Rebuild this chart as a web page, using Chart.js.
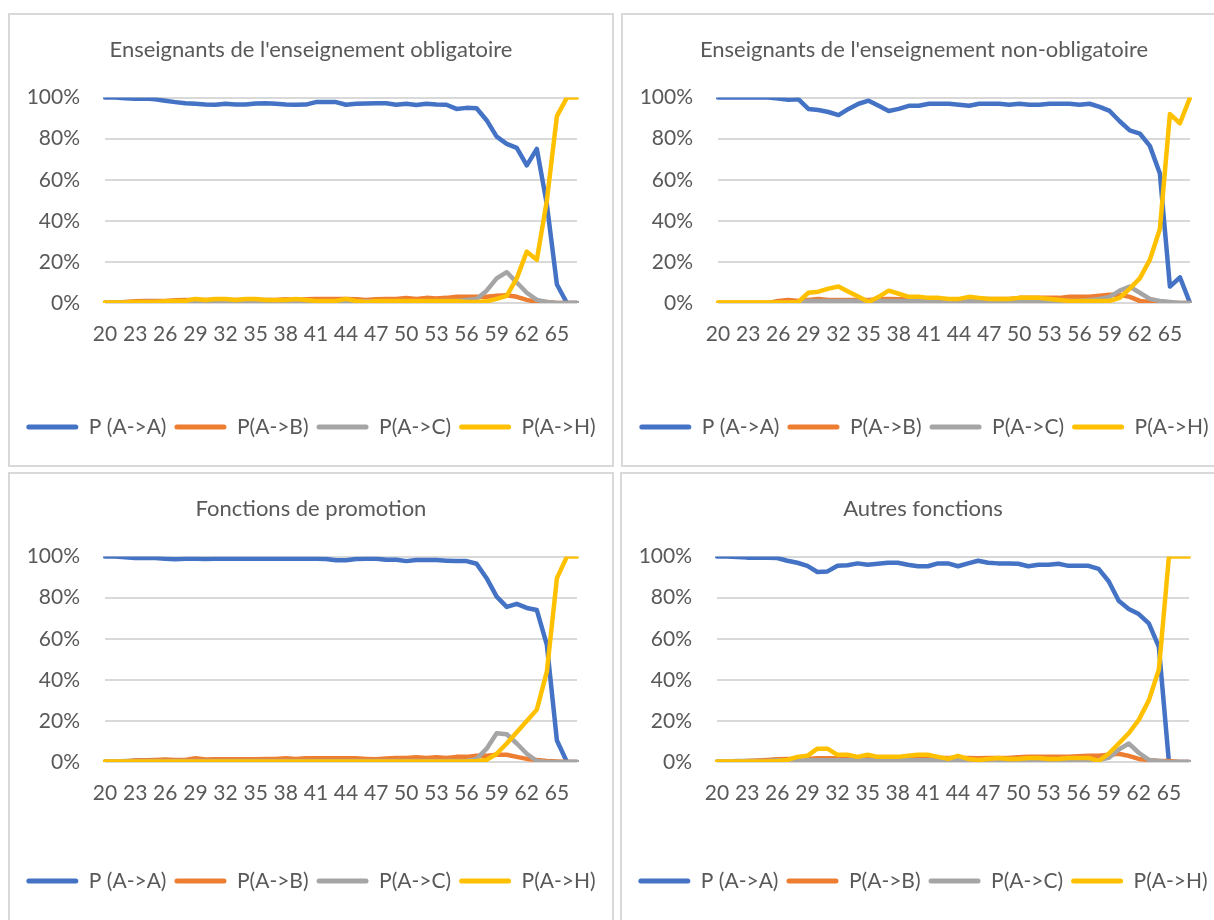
<!DOCTYPE html>
<html>
<head>
<meta charset="utf-8">
<script src="https://cdn.jsdelivr.net/npm/chart.js@4.4.1/dist/chart.umd.min.js"></script>
<style>
  html, body { margin: 0; padding: 0; background: #fff; }
  body { width: 1214px; height: 920px; overflow: hidden; position: relative; }
  .panel { position: absolute; border: 2px solid #d9d9d9; background: #fff; }
  .panel canvas { display: block; }
</style>
</head>
<body>
<div class="panel" style="left:8px; top:13px; width:602px; height:450px;"><canvas id="c1" width="602" height="450"></canvas></div>
<div class="panel" style="left:621px; top:13px; width:602px; height:450px;"><canvas id="c2" width="602" height="450"></canvas></div>
<div class="panel" style="left:8px; top:472px; width:602px; height:470px;"><canvas id="c3" width="602" height="445"></canvas></div>
<div class="panel" style="left:620px; top:472px; width:602px; height:470px;"><canvas id="c4" width="602" height="445"></canvas></div>

<script>
// ages 20..67, every third one is labelled
const ages = [20, 21, 22, 23, 24, 25, 26, 27, 28, 29, 30, 31, 32, 33, 34, 35, 36, 37, 38, 39,
  40, 41, 42, 43, 44, 45, 46, 47, 48, 49, 50, 51, 52, 53, 54, 55, 56, 57, 58, 59,
  60, 61, 62, 63, 64, 65, 66, 67];
const shownAges = [20, 23, 26, 29, 32, 35, 38, 41, 44, 47, 50, 53, 56, 59, 62, 65];
const yTicks = [0, 20, 40, 60, 80, 100];
const seriesNames = ['P (A->A)', 'P(A->B)', 'P(A->C)', 'P(A->H)'];
const seriesColors = ['#4472C4', '#ED7D31', '#A5A5A5', '#FFC000'];

// Enseignants de l'enseignement obligatoire
const oblA = [100, 100, 99.7, 99.5, 99.5, 99.2, 98.5, 97.8, 97.2, 97, 96.6, 96.5, 97, 96.6, 96.6, 97.1, 97.2, 97, 96.6, 96.5,
  96.6, 97.8, 97.9, 97.8, 96.5, 97, 97.1, 97.2, 97.2, 96.5, 97, 96.4, 97, 96.6, 96.5, 94.5, 95, 94.8, 89, 81,
  77.5, 75.5, 67, 75, 48, 9, 0, 0];
const oblB = [0, 0, 0.5, 0.8, 1, 1, 1, 1.3, 1.5, 1.5, 1.5, 1.5, 1.5, 1.5, 1.5, 1.5, 1.5, 1.5, 1.8, 1.5,
  1.8, 2, 2, 2, 2, 1.8, 1.5, 1.8, 2, 2, 2.5, 2, 2.5, 2.2, 2.5, 3, 3, 3, 3, 3.5,
  3.8, 3, 1.5, 0.5, 0.5, 0, 0, 0];
const oblC = [0.2, 0.2, 0.3, 0.3, 0.5, 0.5, 0.5, 0.6, 0.8, 0.8, 0.8, 0.8, 0.8, 0.8, 0.8, 0.8, 0.8, 0.8, 0.8, 0.8,
  0.8, 0.8, 0.8, 0.8, 0.8, 0.8, 0.8, 0.8, 0.8, 0.8, 0.8, 0.8, 0.8, 0.8, 1, 1, 1.5, 2, 6, 12,
  15, 10, 5, 1.5, 0.5, 0, 0, 0];
const oblH = [0.3, 0.3, 0.3, 0.5, 0.5, 0.5, 0.8, 1, 1, 2, 1.5, 2, 2, 1.5, 2, 2, 1.5, 1.5, 1.5, 2,
  1.5, 1, 1, 1, 2, 1, 0.5, 1, 1, 1, 1, 1, 1, 1, 1, 1, 0.5, 0.5, 0.8, 2,
  3.5, 12, 25, 21, 50, 91, 100, 100];

// Enseignants de l'enseignement non-obligatoire
const nonA = [100, 100, 100, 100, 100, 100, 99.5, 99, 99.2, 94.5, 94, 93, 91.5, 94.5, 97, 98.5, 96, 93.5, 94.5, 96,
  96, 97, 97, 97, 96.5, 96, 97, 97, 97, 96.5, 97, 96.5, 96.5, 97, 97, 97, 96.5, 97, 95.5, 93.5,
  88.5, 84, 82.5, 76.5, 63, 8, 12.5, 0];
const nonB = [0, 0, 0, 0, 0, 0, 1, 1.5, 1, 1.5, 2, 1.5, 1.5, 1.5, 1.5, 1.5, 1.8, 2, 1.8, 1.8,
  1.8, 1.8, 1.8, 1.8, 1.8, 2, 2, 2, 2, 2, 2.5, 2.5, 2.5, 2.5, 2.5, 3, 3, 3, 3.5, 4,
  4, 3, 1, 0.5, 0.5, 0, 0, 0];
const nonC = [0, 0, 0, 0, 0, 0, 0, 0, 0, 1, 1, 1, 1, 1, 1, 1, 1, 1, 1, 1,
  1, 1, 1, 1, 1, 1, 1, 1, 1, 1, 1, 1, 1, 1, 1, 1, 1, 1.5, 2, 3,
  6, 8, 5, 2, 1, 0.5, 0, 0];
const nonH = [0.3, 0.3, 0.3, 0.3, 0.3, 0.3, 0.3, 0.3, 0.5, 5, 5.5, 7, 8, 5.5, 3, 0.5, 3, 6, 4.5, 3,
  3, 2.5, 2.5, 2, 2, 3, 2.5, 2, 2, 2, 2.5, 2.5, 2.5, 2, 1.5, 1, 1, 1, 1, 1,
  2.5, 7, 12, 21, 36, 92, 87.5, 100];

// Fonctions de promotion
const proA = [100, 100, 99.7, 99.3, 99.3, 99.3, 99, 98.7, 99, 99, 98.8, 99, 99, 99, 99, 99, 99, 99, 99, 99,
  99, 99, 98.8, 98.2, 98.2, 98.8, 99, 99, 98.5, 98.5, 97.8, 98.3, 98.3, 98.3, 98, 97.8, 97.8, 96.5, 89.5, 80.5,
  75.5, 77, 75, 74, 57, 10.5, 0, 0];
const proB = [0, 0, 0.3, 0.8, 0.8, 1, 1.2, 1, 1, 1.8, 1.2, 1.3, 1.3, 1.3, 1.3, 1.3, 1.5, 1.5, 1.8, 1.5,
  1.8, 1.8, 1.8, 1.8, 1.8, 1.8, 1.5, 1.3, 1.7, 2, 2, 2.3, 2, 2.3, 2, 2.5, 2.5, 3, 3, 3.5,
  3.5, 2.5, 1.5, 1, 0.5, 0.2, 0, 0];
const proC = [0.3, 0.3, 0.5, 0.5, 0.5, 0.5, 0.5, 0.5, 0.5, 0.5, 0.5, 0.5, 0.5, 0.5, 0.5, 0.5, 0.5, 0.5, 0.5, 0.5,
  0.5, 0.5, 0.5, 0.5, 0.5, 0.5, 0.5, 0.5, 0.5, 0.5, 0.5, 0.5, 0.5, 0.5, 0.5, 0.5, 0.5, 1.5, 6.5, 14,
  13.5, 9, 4, 0.5, 0, 0, 0, 0];
const proH = [0.3, 0.3, 0.3, 0.3, 0.3, 0.3, 0.3, 0.3, 0.3, 0.3, 0.3, 0.3, 0.3, 0.3, 0.3, 0.3, 0.3, 0.3, 0.3, 0.3,
  0.3, 0.3, 0.3, 0.3, 0.3, 0.3, 0.3, 0.3, 0.3, 0.3, 0.3, 0.3, 0.3, 0.3, 0.3, 0.3, 0.3, 0.5, 1, 4,
  9, 14.5, 20, 25.5, 44, 89.5, 100, 100];

// Autres fonctions
const autA = [100, 100, 99.8, 99.5, 99.5, 99.5, 99.3, 98, 97, 95.5, 92.5, 92.8, 95.5, 95.8, 96.7, 96, 96.5, 97, 97, 96,
  95.3, 95.3, 96.7, 96.7, 95.3, 96.7, 98, 97, 96.7, 96.7, 96.5, 95.3, 96, 96, 96.5, 95.5, 95.5, 95.5, 94, 88,
  78.5, 74.5, 72, 67.5, 56, 0, 0, 0];
const autB = [0, 0, 0.3, 0.5, 0.7, 1, 1.3, 1.5, 1.5, 1.5, 1.8, 1.8, 1.8, 1.8, 1.8, 1.8, 1.8, 1.8, 1.8, 2,
  2, 2, 2, 2, 2, 2, 1.8, 2, 2, 2, 2.3, 2.5, 2.5, 2.5, 2.5, 2.5, 2.8, 3, 3, 3.5,
  4, 3, 1.5, 1, 0.5, 0.5, 0, 0];
const autC = [0.3, 0.3, 0.5, 0.5, 0.5, 0.5, 0.8, 0.8, 0.8, 0.8, 0.8, 0.8, 0.8, 0.8, 0.8, 0.8, 0.8, 0.8, 0.8, 0.8,
  0.8, 0.8, 0.8, 0.8, 0.8, 0.8, 0.8, 0.8, 0.8, 0.8, 0.8, 0.8, 0.8, 0.8, 0.8, 0.8, 0.8, 0.8, 1, 2,
  6, 9, 4.5, 1, 0.5, 0, 0, 0];
const autH = [0.3, 0.3, 0.3, 0.3, 0.3, 0.3, 0.5, 1, 2.5, 3, 6.5, 6.5, 3.5, 3.5, 2.5, 3.5, 2.5, 2.5, 2.5, 3,
  3.5, 3.5, 2.5, 1.5, 3, 1.5, 1, 1.5, 2, 1.5, 1.5, 2, 2, 1.5, 1.5, 2, 2, 2, 0.5, 4,
  9, 14, 20.5, 30, 45, 100, 100, 100];

const FONT = 'Lato, "Liberation Sans", sans-serif';
const TEXT = '#595959';
Chart.defaults.font.family = FONT;
Chart.defaults.color = TEXT;

function makeChart(id, title, series, axisHeight) {
  const datasets = series.map((values, i) => ({
    label: seriesNames[i],
    data: values,
    borderColor: seriesColors[i],
    backgroundColor: seriesColors[i],
    borderWidth: 4.5,
    pointRadius: 0,
    tension: 0,
    borderJoinStyle: 'round',
    borderCapStyle: 'round',
    order: 4 - i   // H drawn last, on top
  }));

  return new Chart(document.getElementById(id).getContext('2d'), {
    type: 'line',
    data: { labels: ages, datasets },
    options: {
      responsive: false,
      animation: false,
      layout: { padding: { left: 5, right: 5, top: 0, bottom: 17.5 } },
      plugins: {
        tooltip: { enabled: false },
        title: {
          display: true,
          text: title,
          color: TEXT,
          font: { size: 22, weight: 'normal' },
          padding: { top: 21.8, bottom: 34.4 }
        },
        legend: {
          position: 'bottom',
          labels: {
            boxWidth: 52,
            boxHeight: 5,
            padding: 8,
            color: TEXT,
            font: { size: 21 },
            useBorderRadius: true,
            borderRadius: 2.5,
            generateLabels: chart => chart.data.datasets.map((ds, i) => ({
              text: ds.label,
              fillStyle: ds.borderColor,
              strokeStyle: ds.borderColor,
              lineWidth: 0,
              borderRadius: 2.5,
              fontColor: TEXT,
              hidden: false,
              datasetIndex: i
            }))
          }
        }
      },
      scales: {
        x: {
          grid: { display: false },
          border: { display: false },
          ticks: {
            autoSkip: false,
            maxRotation: 0,
            padding: 10.5,
            font: { size: 21 },
            callback: function (value, index) {
              const age = ages[index];
              return shownAges.includes(age) ? String(age) : '';
            }
          },
          afterFit: s => { s.height = axisHeight; }
        },
        y: {
          min: 0,
          max: 100,
          grid: { color: '#d9d9d9', lineWidth: 2, drawTicks: false },
          border: { display: false },
          ticks: {
            padding: 25,
            font: { size: 21 },
            callback: v => yTicks.includes(v) ? v + '%' : ''
          },
          afterBuildTicks: s => { s.ticks = yTicks.map(v => ({ value: v })); },
          afterFit: s => { s.width = 90; }
        },
        yR: {
          type: 'linear',
          position: 'right',
          grid: { display: false },
          border: { display: false },
          ticks: { display: false },
          afterFit: s => { s.width = 30; }
        }
      }
    }
  });
}

makeChart('c1', "Enseignants de l'enseignement obligatoire", [oblA, oblB, oblC, oblH], 105.5);
makeChart('c2', "Enseignants de l'enseignement non-obligatoire", [nonA, nonB, nonC, nonH], 105.5);
makeChart('c3', 'Fonctions de promotion', [proA, proB, proC, proH], 100.5);
makeChart('c4', 'Autres fonctions', [autA, autB, autC, autH], 100.5);
</script>
</body>
</html>
